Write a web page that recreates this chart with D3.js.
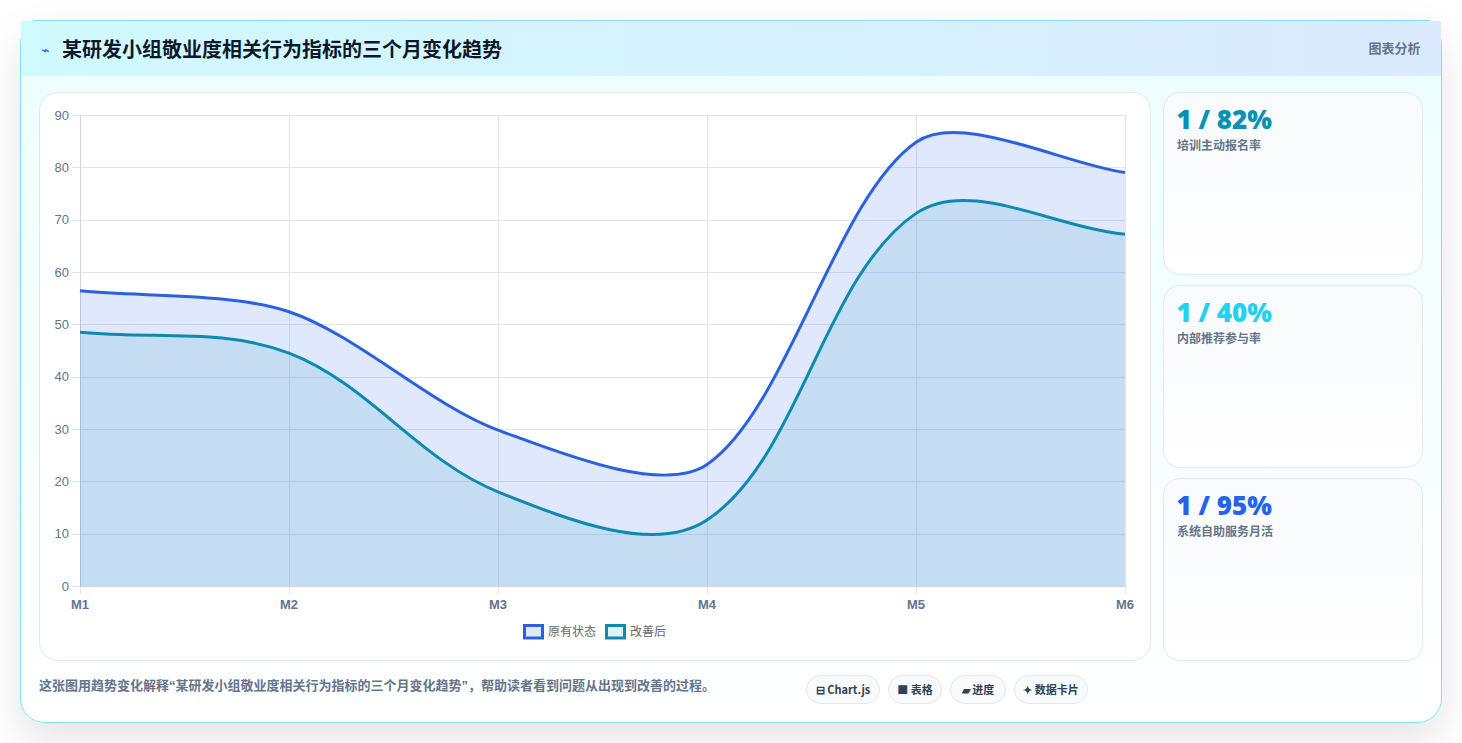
<!DOCTYPE html>
<html lang="zh">
<head>
<meta charset="utf-8">
<title>某研发小组敬业度相关行为指标的三个月变化趋势</title>
<script src="https://cdn.jsdelivr.net/npm/d3@7/dist/d3.min.js"></script>
<style>
  html, body { margin: 0; padding: 0; background: #fff; overflow: hidden; }
  svg { display: block; }
  text { font-family: "Liberation Sans", "Noto Sans CJK SC", sans-serif; }
  .cjk { font-family: "Noto Sans CJK SC", "Liberation Sans", sans-serif; }
  .mixed { font-family: "Liberation Sans", "Noto Sans CJK SC", sans-serif; }
  .heavy { font-family: "Open Sans", "Noto Sans", sans-serif; font-weight: 800; }
</style>
</head>
<body>
<svg id="page" width="1462" height="743"></svg>
<script>
const months = ["M1", "M2", "M3", "M4", "M5", "M6"];
const originalValues = [56.4, 52.4, 29.8, 23.2, 84.8, 79];
const improvedValues = [48.5, 44.5, 18, 12.6, 71.2, 67.2];
const seriesNames = ["原有状态", "改善后"];
const yTicks = [0, 10, 20, 30, 40, 50, 60, 70, 80, 90];
const statValues = ["1 / 82%", "1 / 40%", "1 / 95%"];
const statLabels = ["培训主动报名率", "内部推荐参与率", "系统自助服务月活"];
const statColors = ["#0891b2", "#22d3ee", "#2563eb"];
const pillLabels = ["⊟ Chart.js", "■ 表格", "▰ 进度", "✦ 数据卡片"];
const titleText = "某研发小组敬业度相关行为指标的三个月变化趋势";
const captionText = "这张图用趋势变化解释“某研发小组敬业度相关行为指标的三个月变化趋势”，帮助读者看到问题从出现到改善的过程。";

const svg = d3.select("#page");
const defs = svg.append("defs");

function linearGradient(id, x2, y2, stops) {
  const g = defs.append("linearGradient").attr("id", id)
    .attr("x1", 0).attr("y1", 0).attr("x2", x2).attr("y2", y2);
  stops.forEach(([o, c]) => g.append("stop").attr("offset", o).attr("stop-color", c));
}
linearGradient("bodyFill", 0, 1, [[0, "#ecfeff"], [1, "#ffffff"]]);
linearGradient("headFill", 1, 0, [[0, "#cffafe"], [1, "#dbeafe"]]);
linearGradient("statFill", 0, 1, [[0, "#f8fafc"], [1, "#ffffff"]]);

const shadow = defs.append("filter").attr("id", "cardShadow")
  .attr("x", "-10%").attr("y", "-10%").attr("width", "120%").attr("height", "125%");
shadow.append("feDropShadow").attr("dx", 0).attr("dy", 18).attr("stdDeviation", 20)
  .attr("flood-color", "#000").attr("flood-opacity", 0.1);

// Outer card and header band
svg.append("rect").attr("x", 20.5).attr("y", 20.5).attr("width", 1421).attr("height", 702)
  .attr("rx", 24).attr("fill", "url(#bodyFill)").attr("stroke", "#7fe3ef")
  .attr("filter", "url(#cardShadow)");
svg.append("rect").attr("x", 21).attr("y", 21).attr("width", 1420).attr("height", 55)
  .attr("fill", "url(#headFill)");
svg.append("path").attr("d", "M33,20.5H1430").attr("stroke", "#7fe3ef").attr("fill", "none");

svg.append("text").attr("x", 41).attr("y", 55).attr("fill", "#2563eb")
  .attr("font-size", 14).style("font-family", "DejaVu Sans").text("⌁");
svg.append("text").attr("class", "cjk").attr("x", 62).attr("y", 57)
  .attr("font-size", 20).attr("font-weight", 700).attr("fill", "#0f172a").text(titleText);
svg.append("text").attr("class", "cjk").attr("x", 1420.5).attr("y", 53).attr("text-anchor", "end")
  .attr("font-size", 13).attr("font-weight", 700).attr("fill", "#64748b").text("图表分析");

// Chart panel
svg.append("rect").attr("x", 39.5).attr("y", 92.5).attr("width", 1111).attr("height", 568)
  .attr("rx", 18).attr("fill", "#fff").attr("stroke", "#e2e8f0");

const plot = { left: 80, right: 1125, top: 115, bottom: 586 };
const x = d3.scalePoint().domain(months).range([plot.left, plot.right]);
const y = d3.scaleLinear().domain([0, 90]).range([plot.bottom, plot.top]);

// Grid, drawn beneath the filled areas; each line runs on as a short tick mark
const grid = svg.append("g").attr("fill", "none").attr("stroke", "#e2e6eb");
grid.selectAll("line.h").data(yTicks).join("line").attr("class", "h")
  .attr("x1", plot.left - 8).attr("x2", plot.right)
  .attr("y1", d => Math.round(y(d)) + 0.5).attr("y2", d => Math.round(y(d)) + 0.5);
grid.selectAll("line.v").data(months).join("line").attr("class", "v")
  .attr("y1", plot.top).attr("y2", plot.bottom + 8)
  .attr("x1", d => Math.round(x(d)) + 0.5).attr("x2", d => Math.round(x(d)) + 0.5);
svg.append("line").attr("x1", plot.left + 0.5).attr("x2", plot.left + 0.5)
  .attr("y1", plot.top).attr("y2", plot.bottom).attr("stroke", "#d1d5db");
svg.append("line").attr("x1", plot.left).attr("x2", plot.right)
  .attr("y1", plot.bottom + 0.5).attr("y2", plot.bottom + 0.5).attr("stroke", "#d1d5db");

// Spline whose control points are scaled by neighbouring segment lengths
function splineSegments(values, tension) {
  const pts = values.map((v, i) => [x(months[i]), y(v)]);
  const last = pts.length - 1;
  const ctrl = pts.map((cur, i) => {
    const prev = pts[Math.max(0, i - 1)], next = pts[Math.min(last, i + 1)];
    const d01 = Math.hypot(cur[0] - prev[0], cur[1] - prev[1]);
    const d12 = Math.hypot(next[0] - cur[0], next[1] - cur[1]);
    const fa = tension * d01 / (d01 + d12), fb = tension * d12 / (d01 + d12);
    return {
      before: [cur[0] - fa * (next[0] - prev[0]), cur[1] - fa * (next[1] - prev[1])],
      after: [cur[0] + fb * (next[0] - prev[0]), cur[1] + fb * (next[1] - prev[1])]
    };
  });
  return { pts, ctrl };
}
function tracePath(d, closeToBase) {
  const { pts, ctrl } = splineSegments(d.values, d.tension);
  const p = d3.path();
  p.moveTo(pts[0][0], pts[0][1]);
  for (let i = 1; i < pts.length; i++) {
    p.bezierCurveTo(ctrl[i - 1].after[0], ctrl[i - 1].after[1],
      ctrl[i].before[0], ctrl[i].before[1], pts[i][0], pts[i][1]);
  }
  if (closeToBase) {
    p.lineTo(pts[pts.length - 1][0], y(0));
    p.lineTo(pts[0][0], y(0));
    p.closePath();
  }
  return p.toString();
}

const series = [
  { name: seriesNames[0], values: originalValues, tension: 0.3, line: "#2a62de", fill: "rgba(37,99,235,0.15)" },
  { name: seriesNames[1], values: improvedValues, tension: 0.35, line: "#0e8ab0", fill: "rgba(8,145,178,0.12)" }
];
svg.append("g").selectAll("path").data(series).join("path")
  .attr("d", d => tracePath(d, true)).attr("fill", d => d.fill);
svg.append("g").selectAll("path").data(series).join("path")
  .attr("d", d => tracePath(d, false)).attr("fill", "none")
  .attr("stroke", d => d.line).attr("stroke-width", 3);

// Axis labels
svg.append("g").selectAll("text").data(yTicks).join("text")
  .attr("x", plot.left - 11).attr("y", d => y(d) + 4.5).attr("text-anchor", "end")
  .attr("font-size", 13).attr("fill", "#64748b").text(d => d);
svg.append("g").selectAll("text").data(months).join("text")
  .attr("x", d => x(d)).attr("y", 609).attr("text-anchor", "middle")
  .attr("font-size", 13).attr("font-weight", 700).attr("fill", "#64748b").text(d => d);

// Legend
const legend = svg.append("g").selectAll("g").data(series).join("g")
  .attr("transform", (d, i) => `translate(${[524.5, 606.5][i]},625.5)`);
legend.append("rect").attr("width", 18).attr("height", 12.5)
  .attr("fill", d => d.fill).attr("stroke", d => d.line).attr("stroke-width", 3);
legend.append("text").attr("class", "cjk").attr("x", 23.5).attr("y", 10)
  .attr("font-size", 12).attr("fill", "#666").text(d => d.name);

// Stat cards
const statTops = [92.5, 285.5, 478.5];
const stats = svg.append("g").selectAll("g").data(statValues).join("g")
  .attr("transform", (d, i) => `translate(1163.5,${statTops[i]})`);
stats.append("rect").attr("width", 259).attr("height", 182).attr("rx", 16)
  .attr("fill", "url(#statFill)").attr("stroke", "#dbeafe");
stats.append("text").attr("class", "heavy").attr("x", 13).attr("y", 36)
  .attr("font-size", 26).attr("fill", (d, i) => statColors[i]).text(d => d);
stats.append("text").attr("class", "cjk").attr("x", 13.5).attr("y", 57.5)
  .attr("font-size", 12).attr("font-weight", 700).attr("fill", "#64748b").text((d, i) => statLabels[i]);

// Caption and pills
svg.append("text").attr("class", "mixed").attr("x", 39).attr("y", 690)
  .attr("font-size", 13).attr("font-weight", 700).attr("fill", "#64748b").text(captionText);
const pillBox = [[806, 73], [888, 53], [950, 55], [1014, 73]];
const pills = svg.append("g").selectAll("g").data(pillLabels).join("g")
  .attr("transform", (d, i) => `translate(${pillBox[i][0] + 0.5},675.5)`);
pills.append("rect").attr("width", (d, i) => pillBox[i][1]).attr("height", 28).attr("rx", 14)
  .attr("fill", "#f8fafc").attr("stroke", "#e2e8f0");
pills.append("text").attr("class", "cjk").attr("x", (d, i) => pillBox[i][1] / 2).attr("y", 18.5)
  .attr("text-anchor", "middle").attr("font-size", 11).attr("font-weight", 700)
  .attr("fill", "#334155").text(d => d);
</script>
</body>
</html>
